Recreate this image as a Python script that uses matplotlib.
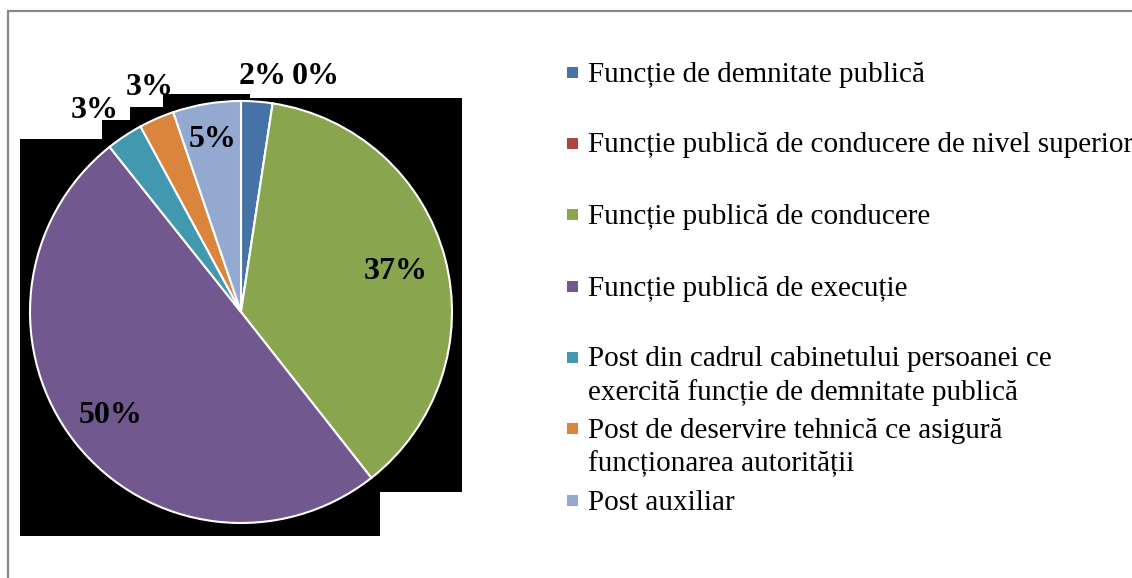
import numpy as np
import matplotlib
matplotlib.use('Agg')
import matplotlib.pyplot as plt
from matplotlib.patches import Rectangle

# data
categories = ['Funcție de demnitate publică',
              'Funcție publică de conducere de nivel superior',
              'Funcție publică de conducere',
              'Funcție publică de execuție',
              'Post din cadrul cabinetului persoanei ce\nexercită funcție de demnitate publică',
              'Post de deservire tehnică ce asigură\nfuncționarea autorității',
              'Post auxiliar']
shares = [2.4, 0.0, 37.0, 49.9, 2.8, 2.7, 5.2]

colors = ['#4572A7', '#AA4643', '#89A54E', '#71588F', '#4198AF', '#DB843D', '#93A9CF']
# label placement: distance from centre (in radii) and angle nudge (deg)
lab_r = [1.12, 1.17, 0.76, 0.79, 1.18, 1.15, 0.83]
lab_da = [-1, -9, 0, 0, 2.5, -1.5, 0]

W, H = 1132, 578
fig = plt.figure(figsize=(W / 100, H / 100), dpi=100)

def px(x, y):
    # pixel coords (top-left origin) -> figure fraction
    return x / W, 1 - y / H

def rect(x0, y0, x1, y1, **kw):
    fx, fy = px(x0, y1)
    return Rectangle((fx, fy), (x1 - x0) / W, (y1 - y0) / H,
                     transform=fig.transFigure, **kw)

# outer frame of the chart area
fr = rect(8, 11, W + 10, H + 10, facecolor='none', edgecolor='#898989', lw=1.6)
fr.set_figure(fig)
fig.patches.append(fr)

cx, cy, R = 241, 312, 211
l, b = px(cx - R, cy + R)
ax = fig.add_axes([l, b, 2 * R / W, 2 * R / H])
wedges, _ = ax.pie(shares, colors=colors, startangle=90, counterclock=False,
                   radius=1, wedgeprops=dict(edgecolor='white', linewidth=1.5))
ax.set_xlim(-1, 1)
ax.set_ylim(-1, 1)
ax.set_aspect('equal')
ax.axis('off')

# black label-box artefacts behind the pie (they also hide part of the labels)
for r in [(163, 94, 250, 492), (250, 98, 462, 492), (130, 107, 163, 536),
          (102, 120, 130, 536), (20, 139, 102, 536), (102, 139, 380, 536),
          (163, 98, 380, 536)]:
    ax.add_patch(rect(*r, facecolor='black', edgecolor='none', zorder=0.5, clip_on=False))

for i, w in enumerate(wedges):
    ang = np.deg2rad((w.theta1 + w.theta2) / 2 + lab_da[i])
    ax.text(lab_r[i] * np.cos(ang), lab_r[i] * np.sin(ang), '%.0f%%' % shares[i],
            ha='center', va='center', fontsize=23, fontweight='bold',
            family='Liberation Serif', color='black', clip_on=False,
            zorder=0.3 if lab_r[i] > 1 else 3)

# legend drawn by hand to follow the original spacing
leg_y = [72, 143, 214, 286, 357, 428, 500]
for i, lab in enumerate(categories):
    sq = rect(567, leg_y[i] - 5.5, 578, leg_y[i] + 5.5, facecolor=colors[i], edgecolor='none')
    sq.set_figure(fig)
    fig.patches.append(sq)
    for k, line in enumerate(lab.split('\n')):
        fx, fy = px(588, leg_y[i] + 9.5 + 34 * k)
        fig.text(fx, fy, line, ha='left', va='baseline', fontsize=21,
                 family='Liberation Serif', color='black')

fig.savefig('out.png', dpi=100)
